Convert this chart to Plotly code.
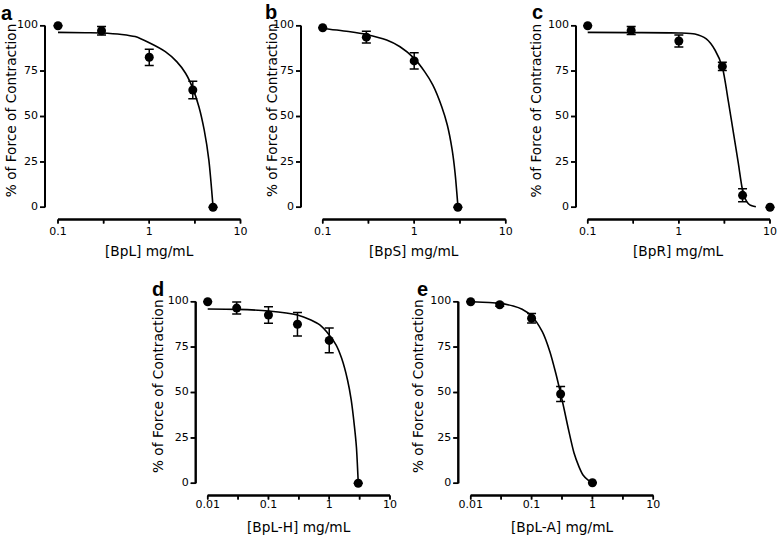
import math
import plotly.graph_objects as go

W, H = 778, 538

# ---------------- data ----------------
a_x = [0.1, 0.3, 1, 3, 5]
a_y = [100, 97.2, 82.6, 64.6, 0]
a_err = [None, 2.3, 4.5, 4.8, None]
a_fit_x = [0.1, 0.2, 0.3, 0.5, 0.7, 1, 1.5, 2, 2.5, 3, 3.5, 4, 4.5, 5]
a_fit_y = [96.3, 96.1, 96.0, 95.2, 94.0, 90.6, 85.7, 80.2, 73.8, 65.5, 55.4, 42.6, 26.0, 0.4]

b_x = [0.1, 0.3, 1, 3]
b_y = [98.9, 93.7, 80.6, 0]
b_err = [None, 3.2, 4.5, None]
b_fit_x = [0.1, 0.2, 0.3, 0.5, 0.7, 1, 1.3, 1.6, 2, 2.3, 2.6, 2.8, 3]
b_fit_y = [98.5, 96.7, 95.2, 92.1, 88.4, 82.0, 74.7, 67.3, 55.4, 45.3, 31.6, 18.7, 1.0]

c_x = [0.1, 0.3, 1, 3, 5, 10]
c_y = [100, 97.4, 91.6, 77.6, 6.6, 0]
c_err = [None, 2.2, 3.3, 2.3, 3.6, None]
c_fit_x = [0.1, 0.3, 1, 1.5, 2, 2.5, 3, 3.5, 4, 4.5, 5, 5.5, 6, 7]
c_fit_y = [96.3, 96.2, 96.0, 95.4, 92.7, 86.5, 77.1, 58.0, 40.0, 24.0, 9.5, 3.5, 1.3, 0.3]

d_x = [0.01, 0.03, 0.1, 0.3, 1, 3]
d_y = [100, 96.5, 92.7, 87.6, 78.7, 0]
d_err = [None, 3.3, 4.5, 6.5, 6.8, None]
d_fit_x = [0.01, 0.03, 0.1, 0.3, 0.5, 0.7, 1, 1.3, 1.6, 2, 2.3, 2.6, 2.8, 3]
d_fit_y = [96.0, 95.8, 94.9, 92.7, 89.9, 87.2, 81.7, 76.1, 68.8, 56.9, 45.9, 31.2, 20.0, 0.4]

e_x = [0.01, 0.03, 0.1, 0.3, 1]
e_y = [100, 98.3, 90.9, 49.2, 0.3]
e_err = [None, 0.8, 2.6, 4.1, None]
e_fit_x = [0.01, 0.02, 0.03, 0.05, 0.07, 0.1, 0.15, 0.2, 0.25, 0.3, 0.35, 0.4, 0.5, 0.6, 0.7, 0.85, 1]
e_fit_y = [100, 99.6, 99.1, 97.6, 95.8, 92.1, 83.5, 72.5, 60.6, 49.5, 39.4, 30.3, 16.5, 9.2, 4.6, 1.8, 0.5]

y_ticks = [0, 25, 50, 75, 100]
y_ticktext = ["0", "25", "50", "75", "100"]
top_xticks = [0.1, 0.3162, 1, 3.162, 10]
top_xticktext = ["0.1", "", "1", "", "10"]
bot_xticks = [0.01, 0.03162, 0.1, 0.3162, 1, 3.162, 10]
bot_xticktext = ["0.01", "", "0.1", "", "1", "", "10"]

x_titles = ["[BpL] mg/mL", "[BpS] mg/mL", "[BpR] mg/mL", "[BpL-H] mg/mL", "[BpL-A] mg/mL"]
y_title = "% of Force of Contraction"
panel_letters = ["a", "b", "c", "d", "e"]

# ---------------- layout geometry (pixels) ----------------
panels = [
    dict(xd=(58, 240.5), y100=25.7, y0=207.3, yax=45, xay=219.5, rng=(-1, 1),
         letter=(0, 19), ytx=11.7, xt_y=251, xl_off=12.5),
    dict(xd=(322.7, 505.7), y100=25.7, y0=207.3, yax=301, xay=219.5, rng=(-1, 1),
         letter=(264, 18.5), ytx=272.5, xt_y=251, xl_off=12.5),
    dict(xd=(587.7, 770), y100=25.7, y0=207.3, yax=576, xay=219.5, rng=(-1, 1),
         letter=(530.5, 18.5), ytx=536, xt_y=251, xl_off=12.5),
    dict(xd=(207.7, 390), y100=301.7, y0=483.3, yax=195.7, xay=495.5, rng=(-2, 1),
         letter=(150.5, 295), ytx=157.5, xt_y=527, xl_off=9.5),
    dict(xd=(470.7, 653.3), y100=301.7, y0=483.3, yax=458.3, xay=495.5, rng=(-2, 1),
         letter=(415.5, 295), ytx=417.5, xt_y=527, xl_off=9.5),
]

series = [
    (a_x, a_y, a_err, a_fit_x, a_fit_y),
    (b_x, b_y, b_err, b_fit_x, b_fit_y),
    (c_x, c_y, c_err, c_fit_x, c_fit_y),
    (d_x, d_y, d_err, d_fit_x, d_fit_y),
    (e_x, e_y, e_err, e_fit_x, e_fit_y),
]

FONT = "DejaVu Sans"
TICKFONT = dict(family=FONT, size=11, color="black")
XTICK_LEN, YTICK_LEN = 4, 5
AXIS_W, TICK_W = 2, 1.5

fig = go.Figure()
annotations = []
shapes = []
L = {}


def fx(px):
    return px / W


def fy(px):
    return 1 - px / H


def sx(k):
    return "" if k == 1 else str(k)


for i, (p, s) in enumerate(zip(panels, series)):
    k = i + 1
    xa, ya = "x" + sx(k), "y" + sx(k)
    px_, py_, perr, cx, cy = s
    x0, x1 = p["xd"]
    r0, r1 = p["rng"]
    dpx = (x1 - x0) / (r1 - r0)          # pixels per decade
    ys = (p["y0"] - p["y100"]) / 100.0    # pixels per percent

    def lx(px):   # pixel x -> log10 data x
        return r0 + (px - x0) / dpx

    def dy(py):   # pixel y -> data y
        return (p["y0"] - py) / ys

    # the subplot covers the plot, the detached axes and their labels
    left, right = p["yax"] - YTICK_LEN - 3, x1 + 5
    top, bottom = p["y100"] - 5, p["xay"] + p["xl_off"] + 9
    L["xaxis" + sx(k)] = dict(type="log", domain=[fx(left), fx(right)],
                              range=[lx(left), lx(right)], anchor=ya, visible=False,
                              fixedrange=True, automargin=False)
    L["yaxis" + sx(k)] = dict(domain=[fy(bottom), fy(top)],
                              range=[dy(bottom), dy(top)], anchor=xa, visible=False,
                              fixedrange=True, automargin=False)

    top_row = i < 3
    xtv = top_xticks if top_row else bot_xticks
    xtt = top_xticktext if top_row else bot_xticktext

    yax_x = 10 ** lx(p["yax"])
    xay_y = dy(p["xay"])
    # detached Prism-style axis lines and tick marks, drawn as paper shapes
    shapes.append(dict(type="line", xref="paper", yref="paper",
                       x0=fx(x0), x1=fx(x1), y0=fy(p["xay"]), y1=fy(p["xay"]),
                       line=dict(color="black", width=AXIS_W)))
    shapes.append(dict(type="line", xref="paper", yref="paper",
                       x0=fx(p["yax"]), x1=fx(p["yax"]), y0=fy(p["y0"]), y1=fy(p["y100"]),
                       line=dict(color="black", width=AXIS_W)))
    for v in xtv:
        tx = x0 + (math.log10(v) - r0) * dpx
        shapes.append(dict(type="line", xref="paper", yref="paper",
                           x0=fx(tx), x1=fx(tx), y0=fy(p["xay"]), y1=fy(p["xay"] + XTICK_LEN),
                           line=dict(color="black", width=TICK_W)))
    for v in y_ticks:
        ty = p["y0"] - v * ys
        shapes.append(dict(type="line", xref="paper", yref="paper",
                           x0=fx(p["yax"]), x1=fx(p["yax"] - YTICK_LEN), y0=fy(ty), y1=fy(ty),
                           line=dict(color="black", width=TICK_W)))

    # the same axes as traces in the panel's data coordinates
    fig.add_trace(go.Scatter(
        x=list(xtv) + [None] + [yax_x] * len(y_ticks),
        y=[xay_y] * len(xtv) + [None] + list(y_ticks),
        mode="lines", xaxis=xa, yaxis=ya,
        line=dict(color="black", width=AXIS_W, simplify=False),
        hoverinfo="skip", showlegend=False))
    tick_x, tick_y = [], []
    for v in xtv:
        tick_x += [v, v, None]
        tick_y += [xay_y, dy(p["xay"] + XTICK_LEN), None]
    for v in y_ticks:
        tick_x += [yax_x, 10 ** lx(p["yax"] - YTICK_LEN), None]
        tick_y += [v, v, None]
    fig.add_trace(go.Scatter(x=tick_x, y=tick_y, mode="lines", xaxis=xa, yaxis=ya,
                             line=dict(color="black", width=TICK_W),
                             hoverinfo="skip", showlegend=False))

    # tick labels
    fig.add_trace(go.Scatter(x=xtv, y=[dy(p["xay"] + p["xl_off"])] * len(xtv), text=xtt,
                             mode="text", textposition="middle center", textfont=TICKFONT,
                             xaxis=xa, yaxis=ya, cliponaxis=False,
                             hoverinfo="skip", showlegend=False))
    fig.add_trace(go.Scatter(x=[10 ** lx(p["yax"] - YTICK_LEN - 2)] * len(y_ticks), y=y_ticks,
                             text=y_ticktext, mode="text", textposition="middle left",
                             textfont=TICKFONT, xaxis=xa, yaxis=ya, cliponaxis=False,
                             hoverinfo="skip", showlegend=False))

    # fitted curve and data points
    fig.add_trace(go.Scatter(x=cx, y=cy, mode="lines", xaxis=xa, yaxis=ya,
                             line=dict(color="black", width=1.6, shape="spline", smoothing=0.7),
                             hoverinfo="skip", showlegend=False))
    fig.add_trace(go.Scatter(x=px_, y=py_, mode="markers", xaxis=xa, yaxis=ya,
                             marker=dict(color="black", size=9),
                             error_y=dict(type="data", array=perr, color="black",
                                          thickness=1.5, width=4.5),
                             cliponaxis=False, showlegend=False))

    # axis titles and panel letter
    annotations.append(dict(text=x_titles[i], xref="paper", yref="paper",
                            x=fx((x0 + x1) / 2), y=fy(p["xt_y"]),
                            xanchor="center", yanchor="middle", showarrow=False,
                            font=dict(family=FONT, size=13.7, color="black")))
    annotations.append(dict(text=y_title, xref="paper", yref="paper",
                            x=fx(p["ytx"]), y=fy((p["y100"] + p["y0"]) / 2 - 6),
                            xanchor="center", yanchor="middle", textangle=-90, showarrow=False,
                            font=dict(family=FONT, size=13.7, color="black")))
    LS = 20
    top_px = max(0.3, p["letter"][1] - 0.905 * LS)
    annotations.append(dict(text="<b>" + panel_letters[i] + "</b>", xref="paper", yref="paper",
                            x=fx(p["letter"][0]), y=fy(top_px), borderpad=0,
                            xanchor="left", yanchor="top", showarrow=False,
                            font=dict(family="Liberation Sans", size=LS, color="black")))

fig.update_layout(width=W, height=H, margin=dict(l=0, r=0, t=0, b=0, pad=0, autoexpand=False),
                  paper_bgcolor="white", plot_bgcolor="rgba(0,0,0,0)", showlegend=False,
                  annotations=annotations, shapes=shapes, **L)

fig.write_html("out.html", config={"displayModeBar": False},
               post_script="document.body.style.margin='0';document.body.style.padding='0';")
